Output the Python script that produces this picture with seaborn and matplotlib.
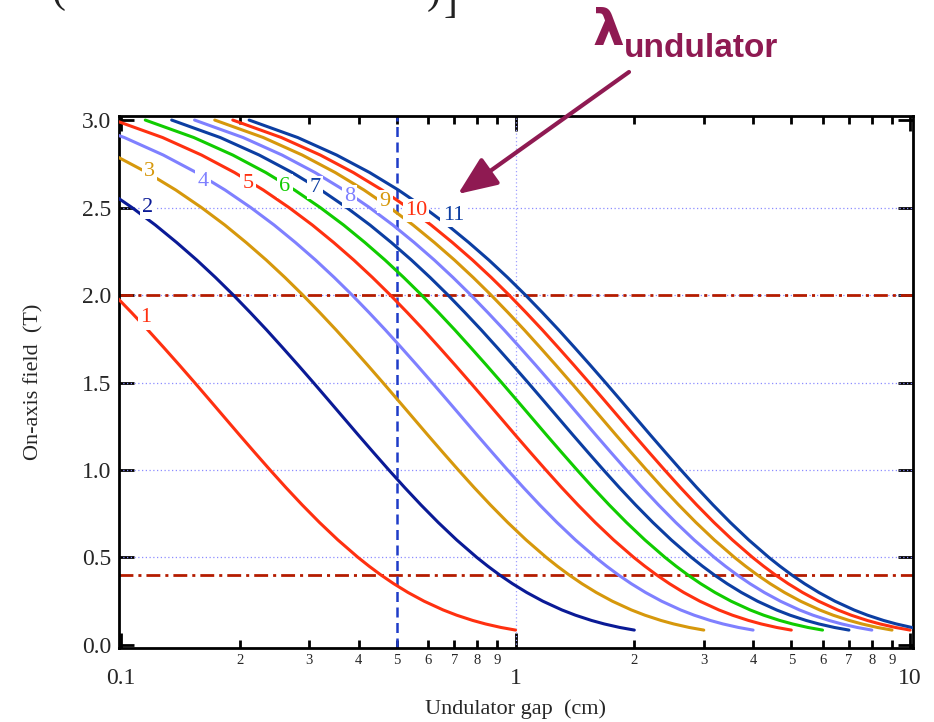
import matplotlib
matplotlib.use("Agg")
import matplotlib.pyplot as plt
import seaborn as sns
import pandas as pd
from matplotlib.ticker import FormatStrFormatter

# ---------------- data ----------------
# field levels (T) crossed by every curve
field_T = [3.0, 2.9, 2.8, 2.7, 2.6, 2.5, 2.4, 2.3, 2.2, 2.1, 2.0, 1.9, 1.8, 1.7, 1.6, 1.5,
           1.4, 1.3, 1.2, 1.1, 1.0, 0.9, 0.8, 0.7, 0.6, 0.5, 0.45, 0.4, 0.35, 0.3, 0.25,
           0.2, 0.17, 0.14, 0.12, 0.1, 0.085]

# gap (cm) at which each undulator-period curve reaches the field levels above
gap_p1 = [0.0192, 0.0255, 0.032, 0.0388, 0.0459, 0.0533, 0.0611, 0.0692, 0.0778, 0.0868,
          0.0963, 0.1063, 0.117, 0.1283, 0.1405, 0.1536, 0.1677, 0.183, 0.1997, 0.2182,
          0.2387, 0.2617, 0.288, 0.3185, 0.3547, 0.399, 0.4255, 0.4558, 0.4913, 0.5338,
          0.5866, 0.6556, 0.7095, 0.7791, 0.8394, 0.9185, 1.0]
gap_p2 = [0.0384, 0.051, 0.064, 0.0776, 0.0918, 0.1066, 0.1222, 0.1384, 0.1556, 0.1736,
          0.1926, 0.2126, 0.234, 0.2566, 0.281, 0.3072, 0.3354, 0.366, 0.3994, 0.4364,
          0.4774, 0.5234, 0.576, 0.637, 0.7094, 0.798, 0.851, 0.9116, 0.9826, 1.0676,
          1.1732, 1.3112, 1.419, 1.5582, 1.6788, 1.837, 2.0]
gap_p3 = [0.0576, 0.0765, 0.096, 0.1164, 0.1377, 0.1599, 0.1833, 0.2076, 0.2334, 0.2604,
          0.2889, 0.3189, 0.351, 0.3849, 0.4215, 0.4608, 0.5031, 0.549, 0.5991, 0.6546,
          0.7161, 0.7851, 0.864, 0.9555, 1.0641, 1.197, 1.2765, 1.3674, 1.4739, 1.6014,
          1.7598, 1.9668, 2.1285, 2.3373, 2.5182, 2.7555, 3.0]
gap_p4 = [0.0768, 0.102, 0.128, 0.1552, 0.1836, 0.2132, 0.2444, 0.2768, 0.3112, 0.3472,
          0.3852, 0.4252, 0.468, 0.5132, 0.562, 0.6144, 0.6708, 0.732, 0.7988, 0.8728,
          0.9548, 1.0468, 1.152, 1.274, 1.4188, 1.596, 1.702, 1.8232, 1.9652, 2.1352,
          2.3464, 2.6224, 2.838, 3.1164, 3.3576, 3.674, 4.0]
gap_p5 = [0.096, 0.1275, 0.16, 0.194, 0.2295, 0.2665, 0.3055, 0.346, 0.389, 0.434,
          0.4815, 0.5315, 0.585, 0.6415, 0.7025, 0.768, 0.8385, 0.915, 0.9985, 1.091,
          1.1935, 1.3085, 1.44, 1.5925, 1.7735, 1.995, 2.1275, 2.279, 2.4565, 2.669,
          2.933, 3.278, 3.5475, 3.8955, 4.197, 4.5925, 5.0]
gap_p6 = [0.1152, 0.153, 0.192, 0.2328, 0.2754, 0.3198, 0.3666, 0.4152, 0.4668, 0.5208,
          0.5778, 0.6378, 0.702, 0.7698, 0.843, 0.9216, 1.0062, 1.098, 1.1982, 1.3092,
          1.4322, 1.5702, 1.728, 1.911, 2.1282, 2.394, 2.553, 2.7348, 2.9478, 3.2028,
          3.5196, 3.9336, 4.257, 4.6746, 5.0364, 5.511, 6.0]
gap_p7 = [0.1344, 0.1785, 0.224, 0.2716, 0.3213, 0.3731, 0.4277, 0.4844, 0.5446, 0.6076,
          0.6741, 0.7441, 0.819, 0.8981, 0.9835, 1.0752, 1.1739, 1.281, 1.3979, 1.5274,
          1.6709, 1.8319, 2.016, 2.2295, 2.4829, 2.793, 2.9785, 3.1906, 3.4391, 3.7366,
          4.1062, 4.5892, 4.9665, 5.4537, 5.8758, 6.4295, 7.0]
gap_p8 = [0.1536, 0.204, 0.256, 0.3104, 0.3672, 0.4264, 0.4888, 0.5536, 0.6224, 0.6944,
          0.7704, 0.8504, 0.936, 1.0264, 1.124, 1.2288, 1.3416, 1.464, 1.5976, 1.7456,
          1.9096, 2.0936, 2.304, 2.548, 2.8376, 3.192, 3.404, 3.6464, 3.9304, 4.2704,
          4.6928, 5.2448, 5.676, 6.2328, 6.7152, 7.348, 8.0]
gap_p9 = [0.1728, 0.2295, 0.288, 0.3492, 0.4131, 0.4797, 0.5499, 0.6228, 0.7002, 0.7812,
          0.8667, 0.9567, 1.053, 1.1547, 1.2645, 1.3824, 1.5093, 1.647, 1.7973, 1.9638,
          2.1483, 2.3553, 2.592, 2.8665, 3.1923, 3.591, 3.8295, 4.1022, 4.4217, 4.8042,
          5.2794, 5.9004, 6.3855, 7.0119, 7.5546, 8.2665, 9.0]
gap_p10 = [0.192, 0.255, 0.32, 0.388, 0.459, 0.533, 0.611, 0.692, 0.778, 0.868,
           0.963, 1.063, 1.17, 1.283, 1.405, 1.536, 1.677, 1.83, 1.997, 2.182,
           2.387, 2.617, 2.88, 3.185, 3.547, 3.99, 4.255, 4.558, 4.913, 5.338,
           5.866, 6.556, 7.095, 7.791, 8.394, 9.185, 10.0]
gap_p11 = [0.2112, 0.2805, 0.352, 0.4268, 0.5049, 0.5863, 0.6721, 0.7612, 0.8558, 0.9548,
           1.0593, 1.1693, 1.287, 1.4113, 1.5455, 1.6896, 1.8447, 2.013, 2.1967, 2.4002,
           2.6257, 2.8787, 3.168, 3.5035, 3.9017, 4.389, 4.6805, 5.0138, 5.4043, 5.8718,
           6.4526, 7.2116, 7.8045, 8.5701, 9.2334, 10.1035, 11.0]

periods = [1, 2, 3, 4, 5, 6, 7, 8, 9, 10, 11]
gaps_by_period = [gap_p1, gap_p2, gap_p3, gap_p4, gap_p5, gap_p6, gap_p7, gap_p8, gap_p9,
                  gap_p10, gap_p11]

# curve label positions (gap, field)
label_x = [0.1157, 0.1169, 0.118, 0.1614, 0.2096, 0.2604, 0.3103, 0.379, 0.467, 0.5595, 0.6955]
label_y = [1.869, 2.503, 2.705, 2.651, 2.638, 2.623, 2.615, 2.562, 2.533, 2.482, 2.457]

ref_fields = [2.0, 0.4]
ref_gap = 0.5
grid_y = [0.5, 1.0, 1.5, 2.0, 2.5]
grid_x = [1.0]

x_major = [0.1, 1, 10]
x_major_labels = ["0.1", "1", "10"]
x_minor = [0.2, 0.3, 0.4, 0.5, 0.6, 0.7, 0.8, 0.9, 2, 3, 4, 5, 6, 7, 8, 9]
x_minor_labels = ["2", "3", "4", "5", "6", "7", "8", "9", "2", "3", "4", "5", "6", "7", "8", "9"]
y_major = [0.0, 0.5, 1.0, 1.5, 2.0, 2.5, 3.0]

# ---------------- style ----------------
RED = "#ff3010"
NAVY = "#0a1a96"
BLUE = "#0c3ea2"
GOLD = "#d6980c"
LBLUE = "#7f80ff"
GREEN = "#10cc00"
MAROON = "#8f1a52"
colors = [RED, NAVY, GOLD, LBLUE, RED, GREEN, BLUE, LBLUE, GOLD, RED, BLUE]

sns.set_style("ticks")
plt.rcParams["font.family"] = ["Liberation Serif", "DejaVu Serif"]

rows = []
for p, gaps in zip(periods, gaps_by_period):
    for g, b in zip(gaps, field_T):
        rows.append({"period": p, "gap": g, "field": b})
df = pd.DataFrame(rows)

fig = plt.figure(figsize=(9.34, 7.22), dpi=100)
ax = fig.add_axes([0.1269, 0.1021, 0.8510, 0.7372])
ax.set_xscale("log")

# grid (dotted light blue)
for yv in grid_y:
    ax.axhline(yv, color="#8c8cff", lw=0.9, ls=(0, (1, 2)), zorder=1)
for xv in grid_x:
    ax.axvline(xv, color="#a0a0ff", lw=0.9, ls=(0, (1, 2)), zorder=1)

# reference lines
for yv in ref_fields:
    ax.axhline(yv, color="#b41c00", lw=2.0, dashes=(5, 1.8, 1.1, 1.8), zorder=2)
ax.axvline(ref_gap, color="#1e3cc8", lw=1.8, dashes=(4, 2.2), zorder=2)

palette = {p: c for p, c in zip(periods, colors)}
sns.lineplot(data=df, x="gap", y="field", hue="period", palette=palette, sort=False,
             estimator=None, legend=False, lw=2.2, ax=ax, zorder=3)

for p, c, lx, ly in zip(periods, colors, label_x, label_y):
    ax.text(lx, ly, str(p), color=c, fontsize=16, ha="center", va="center", zorder=6,
            bbox=dict(facecolor="white", edgecolor="none", pad=1.6))

ax.set_xlim(0.09855, 10.195)
ax.set_ylim(-0.019, 3.023)

ax.set_xticks(x_major)
ax.set_xticklabels(x_major_labels)
ax.set_xticks(x_minor, minor=True)
ax.set_xticklabels(x_minor_labels, minor=True)
ax.set_yticks(y_major)
ax.yaxis.set_major_formatter(FormatStrFormatter("%.1f"))

ax.tick_params(which="both", direction="in", top=True, right=True, color="black", width=2)
ax.tick_params(which="major", length=11)
ax.tick_params(which="minor", length=6)
ax.tick_params(axis="x", which="major", pad=14, labelsize=17)
ax.tick_params(axis="x", which="minor", pad=4, labelsize=10.5)
ax.tick_params(axis="y", which="major", pad=5, labelsize=17)
for s in ax.spines.values():
    s.set_linewidth(2.0)
    s.set_color("black")

ax.set_xlabel("Undulator gap  (cm)", fontsize=16)
ax.set_ylabel("On-axis field  (T)", fontsize=16)
ax.xaxis.set_label_coords(0.5, -0.095)
ax.yaxis.set_label_coords(-0.095, 0.5)

# lambda_undulator annotation
fig.text(593 / 934, 1 - 45 / 722, "λ", fontsize=36, fontweight="bold", color=MAROON,
         family=["DejaVu Sans"], va="baseline", ha="left")
fig.text(624 / 934, 1 - 57 / 722, "undulator", fontsize=24, fontweight="bold", color=MAROON,
         family=["Liberation Sans", "DejaVu Sans"], va="baseline", ha="left")
ax.annotate("", xy=(458, 722 - 194), xycoords="figure pixels",
            xytext=(629, 722 - 72), textcoords="figure pixels",
            arrowprops=dict(arrowstyle="-|>,head_length=1.2,head_width=0.5", color=MAROON,
                            lw=3, mutation_scale=20, shrinkA=0, shrinkB=0),
            annotation_clip=False)

# clipped fragments of an equation above the chart
fig.text(51 / 934, 1 - 11 / 722, "(", fontsize=30, va="bottom", ha="left", color="#222222")
fig.text(427 / 934, 1 - 12 / 722, ")", fontsize=30, va="bottom", ha="left", color="#222222")
fig.text(444 / 934, 1 - 21 / 722, "]", fontsize=30, va="bottom", ha="left", color="#222222")

fig.savefig("out.png", dpi=100)
